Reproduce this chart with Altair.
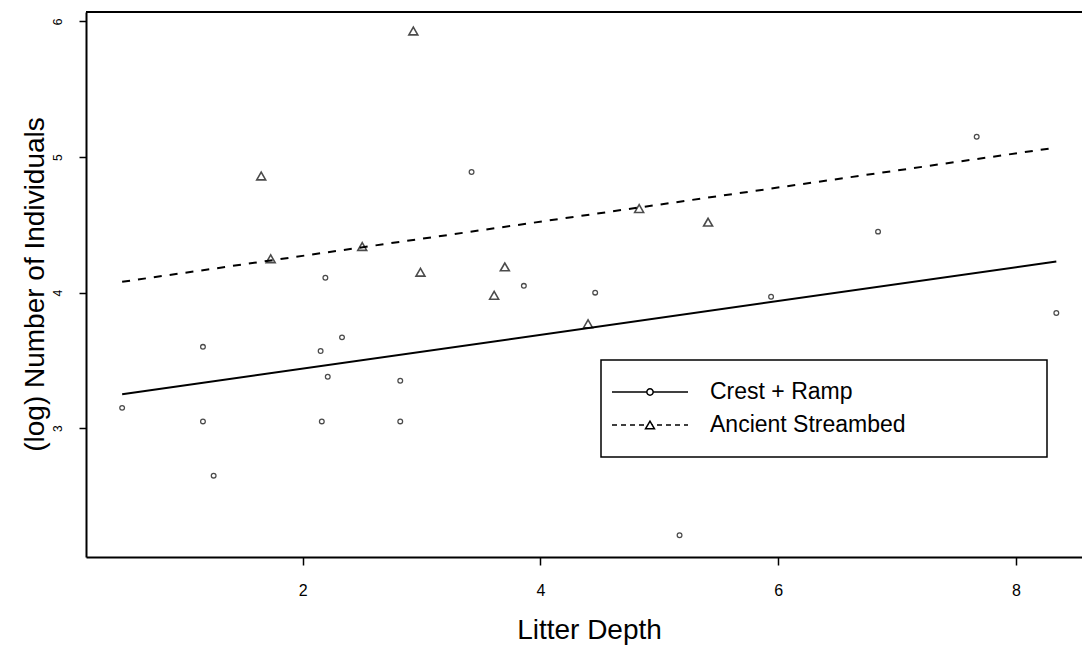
import altair as alt
import pandas as pd

# ---- data ----
crest_x = [0.48, 1.16, 1.16, 1.25, 2.19, 2.15, 2.33, 2.21, 2.16, 2.82, 2.82,
           3.42, 3.86, 4.46, 5.17, 5.94, 6.84, 7.67, 8.34]
crest_y = [3.15, 3.60, 3.05, 2.65, 4.11, 3.57, 3.67, 3.38, 3.05, 3.35, 3.05,
           4.89, 4.05, 4.00, 2.21, 3.97, 4.45, 5.15, 3.85]
stream_x = [2.93, 1.65, 1.73, 2.50, 2.99, 3.70, 3.61, 4.40, 4.83, 5.41]
stream_y = [5.93, 4.86, 4.25, 4.34, 4.15, 4.19, 3.98, 3.77, 4.62, 4.52]
fit_x = [0.48, 8.34]
crest_fit = [3.25, 4.23]
stream_fit = [4.08, 5.07]
x_ticks = [2, 4, 6, 8]
y_ticks = [3, 4, 5, 6]
series = ["Crest + Ramp", "Ancient Streambed"]
x_title = "Litter Depth"
y_title = "(log) Number of Individuals"

FONT = "Liberation Sans"
W, H = 996, 545

crest_df = pd.DataFrame({"x": crest_x, "y": crest_y})
stream_df = pd.DataFrame({"x": stream_x, "y": stream_y})
crest_fit_df = pd.DataFrame({"x": fit_x, "y": crest_fit})
stream_fit_df = pd.DataFrame({"x": fit_x, "y": stream_fit})
one = pd.DataFrame({"k": [0]})

xs = alt.Scale(domain=[0.176, 8.556], nice=False, zero=False)
ys = alt.Scale(domain=[2.05, 6.07], nice=False, zero=False)

xaxis = alt.Axis(values=x_ticks, grid=False, title=x_title, domainColor="black",
                 domainWidth=2, tickColor="black", tickWidth=1.5, tickSize=8,
                 labelFont=FONT, labelFontSize=16, labelColor="black",
                 labelPadding=17, titleFont=FONT, titleFontSize=28,
                 titleFontWeight="normal", titleColor="black",
                 titleX=503, titleY=81, titleAlign="center",
                 titleBaseline="alphabetic")
yaxis = alt.Axis(values=y_ticks, grid=False, title=y_title, domainColor="black",
                 domainWidth=2, tickColor="black", tickWidth=1.5, tickSize=7,
                 labelFont=FONT, labelFontSize=12, labelColor="black",
                 labelAngle=270, labelAlign="center", labelBaseline="middle",
                 labelPadding=22, titleFont=FONT, titleFontSize=28,
                 titleFontWeight="normal", titleColor="black", titleAngle=270,
                 titleX=-43, titleY=272, titleAlign="center",
                 titleBaseline="alphabetic")


def enc(chart):
    return chart.encode(x=alt.X("x:Q", scale=xs, axis=xaxis),
                        y=alt.Y("y:Q", scale=ys, axis=yaxis))


crest_pts = enc(alt.Chart(crest_df).mark_point(
    shape="circle", filled=False, color="black", size=22, strokeWidth=1.3))
stream_pts = enc(alt.Chart(stream_df).mark_point(
    shape="triangle-up", filled=False, color="black", size=80, strokeWidth=1.6))
crest_line = enc(alt.Chart(crest_fit_df).mark_line(color="black", strokeWidth=2))
stream_line = enc(alt.Chart(stream_fit_df).mark_line(
    color="black", strokeWidth=2, strokeDash=[8, 8]))

top_rule = alt.Chart(one).mark_rule(color="black", strokeWidth=2).encode(
    x=alt.value(0), x2=alt.value(W), y=alt.value(0))

# legend box
LX0, LX1, LY0, LY1 = 515, 961, 348, 445
leg_box = alt.Chart(one).mark_rect(fill="white", stroke="black", strokeWidth=1.5).encode(
    x=alt.value(LX0), x2=alt.value(LX1), y=alt.value(LY0), y2=alt.value(LY1))
rows = [380, 413]
leg_layers = []
for i, name in enumerate(series):
    yv = rows[i]
    rule_kw = dict(color="black", strokeWidth=1.6)
    if i == 1:
        rule_kw["strokeDash"] = [5, 4]
    leg_layers.append(alt.Chart(one).mark_rule(**rule_kw).encode(
        x=alt.value(526), x2=alt.value(602), y=alt.value(yv)))
    shape = "circle" if i == 0 else "triangle-up"
    size = 40 if i == 0 else 80
    leg_layers.append(alt.Chart(one).mark_point(
        shape=shape, filled=False, color="black", size=size, strokeWidth=1.5,
        fill="white", fillOpacity=1).encode(x=alt.value(564), y=alt.value(yv)))
    leg_layers.append(alt.Chart(one).mark_text(
        align="left", baseline="middle", font=FONT, fontSize=23, color="black",
        text=name).encode(x=alt.value(624), y=alt.value(yv)))

chart = alt.layer(
    crest_line, stream_line, crest_pts, stream_pts, top_rule, leg_box, *leg_layers
).properties(
    width=W, height=H,
    autosize=alt.AutoSizeParams(type="none"),
    padding={"left": 78, "top": 4, "right": 0, "bottom": 88},
    background="white",
).configure_view(strokeWidth=0)

chart.save("out.html", embed_options={"renderer": "svg", "actions": False})
